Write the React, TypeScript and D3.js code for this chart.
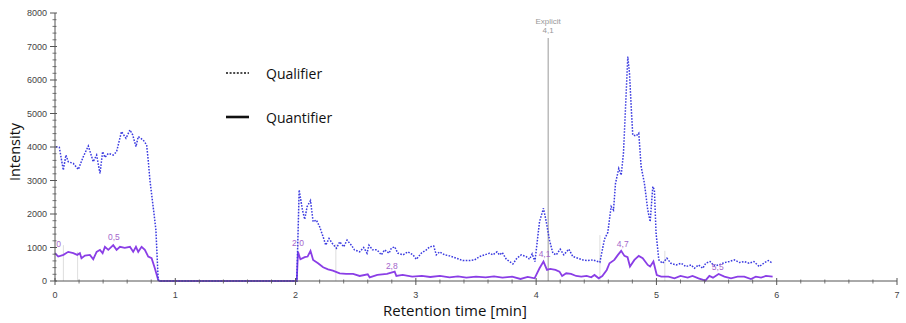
import * as d3 from "d3";

const MARGIN = { top: 13, right: 8, bottom: 42, left: 55 };
const WIDTH = 906;
const HEIGHT = 323;

// Qualifier trace (blue, dotted): [time min, intensity]
const qualifier: [number, number][] = [
  [0.008, 4010], [0.036, 3990], [0.069, 3310], [0.091, 3760], [0.11, 3560], [0.152, 3510],
  [0.194, 3330], [0.235, 3710], [0.277, 4030], [0.318, 3560], [0.346, 3760], [0.374, 3210],
  [0.396, 3860], [0.415, 3690], [0.443, 3810], [0.484, 3760], [0.512, 3860], [0.553, 4460],
  [0.59, 4260], [0.623, 4510], [0.646, 4360], [0.673, 4010], [0.692, 4310], [0.733, 4210],
  [0.762, 4060], [0.775, 3610], [0.789, 3010], [0.816, 2220], [0.839, 1520], [0.858, 30],
  [0.87, 0], [2.0, 0], [2.01, 0], [2.03, 2720], [2.057, 2120], [2.076, 1840], [2.096, 2220],
  [2.124, 2400], [2.146, 1770], [2.173, 1820], [2.2, 1620], [2.229, 1320], [2.251, 1070],
  [2.278, 1270], [2.306, 1120], [2.34, 980], [2.367, 1170], [2.4, 1020], [2.428, 1220],
  [2.464, 1070], [2.49, 930], [2.533, 870], [2.566, 1000], [2.594, 830], [2.61, 1070],
  [2.64, 930], [2.677, 930], [2.713, 780], [2.74, 930], [2.777, 830], [2.796, 980],
  [2.824, 1020], [2.85, 830], [2.893, 780], [2.934, 870], [2.976, 780], [3.004, 650],
  [3.045, 830], [3.087, 930], [3.115, 1020], [3.148, 1045], [3.17, 780], [3.198, 870],
  [3.24, 780], [3.28, 750], [3.336, 680], [3.39, 610], [3.447, 610], [3.488, 630],
  [3.53, 730], [3.571, 780], [3.613, 830], [3.64, 780], [3.674, 870], [3.696, 780],
  [3.718, 850], [3.752, 650], [3.807, 510], [3.84, 680], [3.876, 780], [3.917, 730],
  [3.945, 650], [3.967, 810], [3.99, 580], [4.028, 1770], [4.061, 2170], [4.084, 1770],
  [4.111, 1220], [4.139, 830], [4.167, 780], [4.2, 950], [4.23, 780], [4.272, 950],
  [4.305, 730], [4.347, 680], [4.388, 630], [4.43, 610], [4.47, 630], [4.512, 580],
  [4.53, 560], [4.568, 1250], [4.596, 1450], [4.615, 2000], [4.624, 2220], [4.643, 2120],
  [4.66, 2920], [4.687, 3360], [4.707, 3160], [4.726, 3810], [4.762, 6700], [4.776, 6200],
  [4.79, 5200], [4.803, 4360], [4.831, 4330], [4.853, 4410], [4.873, 3410], [4.9, 2920],
  [4.928, 2120], [4.948, 1770], [4.97, 2820], [4.983, 2720], [4.997, 1420], [5.02, 630],
  [5.05, 530], [5.087, 680], [5.12, 530], [5.164, 480], [5.205, 530], [5.246, 430],
  [5.288, 480], [5.316, 380], [5.35, 480], [5.385, 380], [5.41, 530], [5.446, 580],
  [5.48, 450], [5.52, 480], [5.565, 550], [5.606, 580], [5.648, 630], [5.69, 550],
  [5.73, 580], [5.77, 530], [5.81, 580], [5.855, 430], [5.9, 550], [5.93, 610], [5.966, 530],
];

// Quantifier trace (purple, solid)
const quantifier: [number, number][] = [
  [0.0, 830], [0.027, 730], [0.07, 780], [0.11, 870], [0.152, 830], [0.185, 780],
  [0.207, 830], [0.22, 680], [0.249, 760], [0.29, 780], [0.318, 650], [0.346, 870],
  [0.374, 930], [0.396, 830], [0.415, 1020], [0.443, 930], [0.484, 1070], [0.512, 930],
  [0.54, 1020], [0.58, 990], [0.623, 1020], [0.65, 870], [0.673, 1020], [0.692, 870],
  [0.72, 1020], [0.747, 930], [0.775, 730], [0.803, 680], [0.83, 380], [0.858, 30],
  [0.87, 0], [2.0, 0], [2.01, 0], [2.02, 870], [2.04, 650], [2.076, 710], [2.1, 730],
  [2.124, 900], [2.146, 630], [2.187, 530], [2.229, 410], [2.27, 350], [2.31, 310],
  [2.367, 230], [2.42, 210], [2.478, 210], [2.533, 150], [2.6, 200], [2.616, 110],
  [2.68, 180], [2.76, 210], [2.824, 280], [2.838, 150], [2.89, 180], [2.97, 130],
  [3.05, 150], [3.12, 120], [3.2, 150], [3.28, 110], [3.35, 140], [3.42, 100],
  [3.5, 130], [3.58, 110], [3.65, 140], [3.72, 100], [3.8, 130], [3.87, 60],
  [3.93, 120], [3.987, 80], [4.028, 380], [4.061, 580], [4.09, 330], [4.117, 360],
  [4.161, 330], [4.194, 280], [4.216, 150], [4.25, 230], [4.29, 210], [4.333, 150],
  [4.375, 130], [4.42, 150], [4.458, 110], [4.485, 180], [4.52, 80], [4.55, 150],
  [4.587, 330], [4.61, 530], [4.65, 630], [4.68, 780], [4.707, 900], [4.734, 750],
  [4.76, 710], [4.78, 430], [4.817, 630], [4.853, 750], [4.886, 680], [4.928, 480],
  [4.948, 430], [4.975, 580], [5.003, 180], [5.04, 130], [5.1, 130], [5.15, 80],
  [5.2, 150], [5.26, 100], [5.3, 150], [5.35, 80], [5.407, 10], [5.44, 150],
  [5.47, 100], [5.517, 210], [5.565, 130], [5.62, 80], [5.675, 130], [5.73, 130],
  [5.786, 60], [5.826, 130], [5.87, 100], [5.91, 150], [5.966, 130],
];

// peak labels (purple text) and integration boundaries
const peakLabels: { t: number; v: number; text: string }[] = [
  { t: 0.03, v: 1015, text: "0" },
  { t: 0.49, v: 1210, text: "0,5" },
  { t: 2.02, v: 1045, text: "2,0" },
  { t: 2.8, v: 360, text: "2,8" },
  { t: 4.07, v: 715, text: "4,1" },
  { t: 4.72, v: 1015, text: "4,7" },
  { t: 5.51, v: 330, text: "5,5" },
];
const boundaries: { t: number; v: number }[] = [
  { t: 0.07, v: 1070 },
  { t: 0.188, v: 870 },
  { t: 2.335, v: 1100 },
  { t: 4.53, v: 1370 },
  { t: 5.07, v: 900 },
];
const explicitTime = 4.1;
const explicitLabel = ["Explicit", "4,1"];

const xTicks = [0, 1, 2, 3, 4, 5, 6, 7];
const yTicks = [0, 1000, 2000, 3000, 4000, 5000, 6000, 7000, 8000];

const legendItems = [
  { name: "Qualifier", dash: "2,1.6", width: 1.6 },
  { name: "Quantifier", dash: "none", width: 2.6 },
];

const BLUE = "#3a3ae0";
const PURPLE = "#8a3ee6";
const LABEL = "#a466cc";
const AXIS = "#555";

export default function App() {
  const xScale = d3.scaleLinear().domain([0, 7]).range([0, 842]);
  const yScale = d3.scaleLinear().domain([0, 8000]).range([268, 0]);

  const line = d3
    .line<[number, number]>()
    .x((d) => xScale(d[0]))
    .y((d) => yScale(d[1]));

  const xMinor = d3.range(0, 7.001, 0.2).filter((v) => Math.abs(v - Math.round(v)) > 0.01);
  const yMinor = d3.range(0, 8001, 200).filter((v) => v % 1000 !== 0);

  return (
    <svg
      width={WIDTH}
      height={HEIGHT}
      style={{ position: "absolute", left: 0, top: 0, background: "#fff" }}
    >
      <g transform={`translate(${MARGIN.left},${MARGIN.top})`}>
        {boundaries.map((b, i) => (
          <line
            key={i}
            x1={xScale(b.t)}
            x2={xScale(b.t)}
            y1={yScale(0)}
            y2={yScale(b.v)}
            stroke="#d6d6d6"
            strokeWidth={0.8}
          />
        ))}

        {/* explicit marker */}
        <line
          x1={xScale(explicitTime)}
          x2={xScale(explicitTime)}
          y1={yScale(0)}
          y2={25}
          stroke="#999"
          strokeWidth={1}
        />
        {explicitLabel.map((s, i) => (
          <text
            key={i}
            x={xScale(explicitTime)}
            y={11 + i * 8.5}
            textAnchor="middle"
            fontSize={8}
            fill="#999"
            fontFamily="Liberation Sans, Arial, sans-serif"
          >
            {s}
          </text>
        ))}

        <path d={line(quantifier) ?? ""} fill="none" stroke={PURPLE} strokeWidth={1.8} />
        <path
          d={line(qualifier) ?? ""}
          fill="none"
          stroke={BLUE}
          strokeWidth={1.5}
          strokeDasharray="1.6,1.4"
        />

        {peakLabels.map((p, i) => (
          <text
            key={i}
            x={xScale(p.t)}
            y={yScale(p.v)}
            textAnchor="middle"
            fontSize={8.5}
            fill={LABEL}
            fontFamily="Liberation Sans, Arial, sans-serif"
          >
            {p.text}
          </text>
        ))}

        {/* y axis */}
        <line x1={0} x2={0} y1={0} y2={yScale(0)} stroke={AXIS} strokeWidth={1} />
        {yTicks.map((t) => (
          <g key={t} transform={`translate(0,${yScale(t)})`}>
            <line x1={-5} x2={2} stroke={AXIS} strokeWidth={1} />
            <text
              x={-8}
              dy="0.35em"
              textAnchor="end"
              fontSize={9}
              fill="#444"
              fontFamily="Liberation Sans, Arial, sans-serif"
            >
              {t}
            </text>
          </g>
        ))}
        {yMinor.map((t) => (
          <line key={t} x1={-2.5} x2={1.5} y1={yScale(t)} y2={yScale(t)} stroke={AXIS} strokeWidth={0.8} />
        ))}

        {/* x axis */}
        <line x1={0} x2={xScale(7)} y1={yScale(0)} y2={yScale(0)} stroke={AXIS} strokeWidth={1} />
        {xTicks.map((t) => (
          <g key={t} transform={`translate(${xScale(t)},${yScale(0)})`}>
            <line y1={-3} y2={4} stroke={AXIS} strokeWidth={1} />
            <text
              y={17}
              textAnchor="middle"
              fontSize={9}
              fill="#444"
              fontFamily="Liberation Sans, Arial, sans-serif"
            >
              {t}
            </text>
          </g>
        ))}
        {xMinor.map((t) => (
          <line
            key={t}
            x1={xScale(t)}
            x2={xScale(t)}
            y1={yScale(0) - 1.5}
            y2={yScale(0) + 2.5}
            stroke={AXIS}
            strokeWidth={0.8}
          />
        ))}
      </g>

      {/* axis titles */}
      <text
        x={455}
        y={316}
        textAnchor="middle"
        fontSize={15}
        fill="#111"
        fontFamily="Open Sans, sans-serif"
      >
        Retention time [min]
      </text>
      <text
        transform="translate(20,152) rotate(-90)"
        textAnchor="middle"
        fontSize={14.5}
        fill="#111"
        fontFamily="Open Sans, sans-serif"
      >
        Intensity
      </text>

      {/* legend */}
      {legendItems.map((l, i) => (
        <g key={l.name} transform={`translate(226,${73 + i * 44})`}>
          <line x1={0} x2={23} stroke="#111" strokeWidth={l.width} strokeDasharray={l.dash} />
          <text x={40} y={5.5} fontSize={14} fill="#111" fontFamily="Open Sans, sans-serif">
            {l.name}
          </text>
        </g>
      ))}
    </svg>
  );
}
